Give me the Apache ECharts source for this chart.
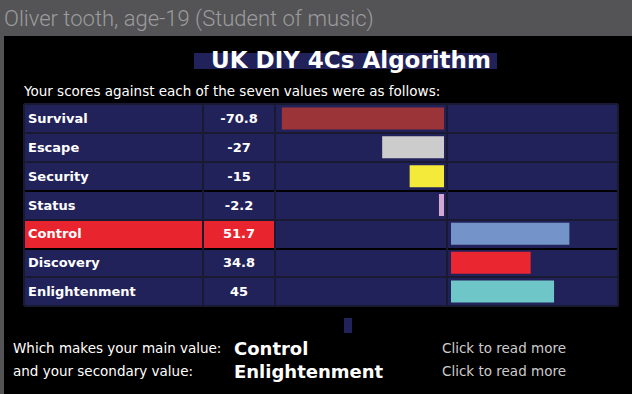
<!DOCTYPE html>
<html><head><meta charset="utf-8">
<script src="https://cdn.jsdelivr.net/npm/echarts@6/dist/echarts.min.js"></script>
<style>html,body{margin:0;padding:0;background:#545456;}#c{width:632px;height:394px;}</style>
</head><body><div id="c"></div>
<script>
const categories = ['Survival','Escape','Security','Status','Control','Discovery','Enlightenment'];
const scores = [-70.8, -27, -15, -2.2, 51.7, 34.8, 45];
const scoreLabels = ['-70.8', '-27', '-15', '-2.2', '51.7', '34.8', '45'];
const barColors = ['#9b3438', '#cccccc', '#f4ea3a', '#d4a6d4', '#7494c9', '#ea2630', '#6ec6c8'];
const mainValue = 'Control';
const secondaryValue = 'Enlightenment';
const headerText = 'Oliver tooth, age-19 (Student of music)';
const titleText = 'UK DIY 4Cs Algorithm';
const introText = 'Your scores against each of the seven values were as follows:';

const NAVY = '#22225a', RED = '#e8242e', SEP = '#191932';
const sepColors = [SEP, SEP, SEP, '#000', SEP, '#000', SEP, SEP];
const F = 'DejaVu Sans';
const TOP = 104, H = 202, PX = 2.29;

function catAxis(gi, z) {
  return { gridIndex: gi, type: 'category', inverse: true, data: categories, z: z,
    axisLine: {show: false}, axisTick: {show: false}, axisLabel: {show: false},
    splitLine: {show: true, lineStyle: {color: sepColors, width: 2}} };
}
function valAxis(gi, min, max, interval, showSplit, z) {
  return { gridIndex: gi, type: 'value', min: min, max: max, interval: interval, z: z,
    axisLine: {show: false}, axisTick: {show: false}, axisLabel: {show: false},
    splitLine: {show: showSplit, lineStyle: {color: SEP, width: 2}} };
}
const rowColor = c => c === mainValue ? RED : NAVY;

const chart = echarts.init(document.getElementById('c'), null, {renderer: 'svg', width: 632, height: 394});
chart.setOption({
  animation: false,
  backgroundColor: '#545456',
  grid: [
    {left: 24, top: TOP, width: 179, height: H, show: true, backgroundColor: NAVY, borderWidth: 0},
    {left: 203, top: TOP, width: 72, height: H, show: true, backgroundColor: NAVY, borderWidth: 0},
    {left: 275, top: TOP, width: 343, height: H, show: true, backgroundColor: NAVY, borderWidth: 0},
    {left: 275, top: TOP, width: 169, height: H, show: false},
    {left: 451, top: TOP, width: 167, height: H, show: false}
  ],
  xAxis: [
    valAxis(0, 0, 1, 1, true, 10),
    valAxis(1, 0, 1, 1, true, 10),
    valAxis(2, -75, 75, 75, true, 0),
    valAxis(3, -169 / PX, 0, null, false, 0),
    valAxis(4, 0, 167 / PX, null, false, 0)
  ],
  yAxis: [catAxis(0, 10), catAxis(1, 10), catAxis(2, 0), catAxis(3, 0), catAxis(4, 0)],
  graphic: [
    {type: 'rect', shape: {x: 4, y: 36, width: 628, height: 358}, style: {fill: '#000'}, z: -10, silent: true},
    {type: 'text', x: 4, y: 18, style: {text: headerText, fill: '#9c9c9e', font: '300 22px Roboto', verticalAlign: 'middle'}},
    {type: 'rect', shape: {x: 194, y: 53, width: 303, height: 16}, style: {fill: NAVY}},
    {type: 'text', x: 351, y: 60, style: {text: titleText, fill: '#fff', font: 'bold 23px "DejaVu Sans"', align: 'center', verticalAlign: 'middle',
      textShadowColor: 'rgba(170,170,200,0.8)', textShadowOffsetX: 1, textShadowOffsetY: 2}},
    {type: 'text', x: 24, y: 91, style: {text: introText, fill: '#fff', font: '13.5px "DejaVu Sans"', verticalAlign: 'middle'}},
    {type: 'rect', shape: {x: 344, y: 318, width: 8, height: 15}, style: {fill: NAVY}},
    {type: 'text', x: 13, y: 348, style: {text: 'Which makes your main value:', fill: '#fff', font: '13.5px "DejaVu Sans"', verticalAlign: 'middle'}},
    {type: 'text', x: 13, y: 371, style: {text: 'and your secondary value:', fill: '#fff', font: '13.5px "DejaVu Sans"', verticalAlign: 'middle'}},
    {type: 'text', x: 234, y: 348, style: {text: mainValue, fill: '#fff', font: 'bold 18px "DejaVu Sans"', verticalAlign: 'middle'}},
    {type: 'text', x: 234, y: 371, style: {text: secondaryValue, fill: '#fff', font: 'bold 18px "DejaVu Sans"', verticalAlign: 'middle'}},
    {type: 'text', x: 442, y: 348, style: {text: 'Click to read more', fill: '#cccccc', font: '13.5px "DejaVu Sans"', verticalAlign: 'middle'}},
    {type: 'text', x: 442, y: 371, style: {text: 'Click to read more', fill: '#cccccc', font: '13.5px "DejaVu Sans"', verticalAlign: 'middle'}}
  ],
  series: [
    {type: 'bar', xAxisIndex: 0, yAxisIndex: 0, barWidth: '100%',
      data: categories.map(c => ({value: 1, itemStyle: {color: rowColor(c)}})),
      label: {show: true, position: 'insideLeft', distance: 4, formatter: p => categories[p.dataIndex],
        color: '#fff', fontFamily: F, fontWeight: 'bold', fontSize: 13}},
    {type: 'bar', xAxisIndex: 1, yAxisIndex: 1, barWidth: '100%',
      data: categories.map(c => ({value: 1, itemStyle: {color: rowColor(c)}})),
      label: {show: true, position: 'inside', formatter: p => scoreLabels[p.dataIndex],
        color: '#fff', fontFamily: F, fontWeight: 'bold', fontSize: 13}},
    {type: 'bar', xAxisIndex: 3, yAxisIndex: 3, barWidth: 22,
      data: scores.map((v, i) => v < 0 ? {value: v, itemStyle: {color: barColors[i]}} : '-')},
    {type: 'bar', xAxisIndex: 4, yAxisIndex: 4, barWidth: 22,
      data: scores.map((v, i) => v > 0 ? {value: v, itemStyle: {color: barColors[i]}} : '-')}
  ]
});
</script></body></html>
